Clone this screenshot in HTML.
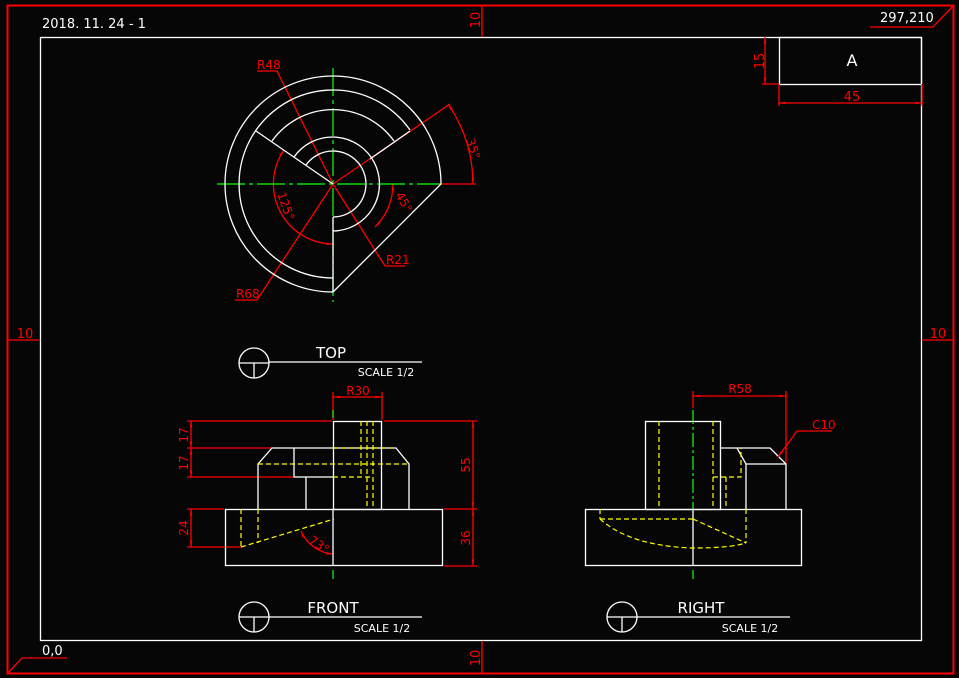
<!DOCTYPE html>
<html><head><meta charset="utf-8"><style>
html,body{margin:0;padding:0;background:#060606;width:959px;height:678px;overflow:hidden}
svg{display:block}
text{font-family:"DejaVu Sans","Liberation Sans",sans-serif}
</style></head><body>
<svg width="959" height="678" viewBox="0 0 959 678" xmlns="http://www.w3.org/2000/svg">
<defs>
<marker id="a" viewBox="0 0 10 10" refX="10" refY="5" markerWidth="7" markerHeight="5" orient="auto-start-reverse"><path d="M0,3 L10,5 L0,7z" fill="#f00"/></marker>
</defs>
<rect width="959" height="678" fill="#060606"/>
<rect x="7.5" y="5.5" width="946" height="668" fill="none" stroke="#f00" stroke-width="2"/>
<rect x="40.5" y="37.5" width="881" height="603" fill="none" stroke="#fff" stroke-width="1.3"/>
<g stroke="#f00" stroke-width="1.3" fill="none">
<line x1="482" y1="5" x2="482" y2="37"/><line x1="482" y1="641" x2="482" y2="673"/>
<line x1="8" y1="340" x2="40" y2="340"/><line x1="922" y1="340" x2="953" y2="340"/>
<polyline points="870,27 933,27 953,6"/>
<polyline points="67,658 22,658 8,673"/>
</g>
<g fill="#f00" font-size="13">
<text transform="translate(480,20) rotate(-90)" text-anchor="middle">10</text>
<text transform="translate(480,658) rotate(-90)" text-anchor="middle">10</text>
<text x="25" y="338" text-anchor="middle">10</text>
<text x="938" y="338" text-anchor="middle">10</text>
</g>
<g fill="#fff" font-size="13">
<text x="42" y="28">2018. 11. 24 - 1</text>
<text x="880" y="22">297,210</text>
<text x="42" y="655">0,0</text>
</g>
<g stroke="#fff" stroke-width="1.3" fill="none">
<rect x="779.5" y="37.5" width="142" height="47"/>
</g>
<text x="852" y="66" fill="#fff" font-size="16" text-anchor="middle">A</text>
<g stroke="#f00" stroke-width="1.3" fill="none">
<line x1="765" y1="37" x2="765" y2="84" marker-start="url(#a)" marker-end="url(#a)"/>
<line x1="762" y1="84" x2="779" y2="84"/>
<line x1="779" y1="84" x2="779" y2="106"/><line x1="922" y1="84" x2="922" y2="106"/>
<line x1="779" y1="103" x2="922" y2="103" marker-start="url(#a)" marker-end="url(#a)"/>
</g>
<text transform="translate(764,61) rotate(-90)" fill="#f00" font-size="13" text-anchor="middle">15</text>
<text x="852" y="101" fill="#f00" font-size="13" text-anchor="middle">45</text>

<!-- TOP VIEW -->
<g stroke="#f00" stroke-width="1.3" fill="none">
<polyline points="257,71 277,71 333,184"/>
<line x1="333" y1="184" x2="385" y2="266"/><line x1="385" y1="266" x2="405" y2="266"/>
<polyline points="235,300 257,300 333,184"/>
<line x1="333" y1="184" x2="450" y2="104"/>
<line x1="441" y1="184" x2="476" y2="184"/>
<path d="M473,184 A140,140 0 0 0 448,104" marker-start="url(#a)" marker-end="url(#a)"/>
<path d="M393,184 A60,60 0 0 1 375,227" marker-start="url(#a)" marker-end="url(#a)"/>
<path d="M284,150 A60,60 0 0 0 333,244" marker-start="url(#a)" marker-end="url(#a)"/>
</g>
<g stroke="#1f1" stroke-width="1.2" stroke-dasharray="28,4,4,4" fill="none">
<line x1="217" y1="184" x2="441" y2="184"/>
<line x1="333" y1="68" x2="333" y2="302"/>
</g>
<g stroke="#fff" stroke-width="1.3" fill="none">
<path d="M333,292 A108,108 0 1 1 441,184 L333,292"/>
<path d="M333,278 A94,94 0 1 1 410,130"/>
<path d="M272,141 A75,75 0 0 1 394,141"/>
<path d="M294,157 A47,47 0 1 1 333,231"/>
<path d="M306,165 A33,33 0 1 1 333,217"/>
<line x1="333" y1="184" x2="256" y2="131"/>
<line x1="370" y1="159" x2="410" y2="131"/>
<line x1="333" y1="217" x2="333" y2="292"/>
</g>
<g fill="#f00" font-size="12">
<text x="257" y="69">R48</text>
<text x="386" y="264">R21</text>
<text x="236" y="298">R68</text>
<text transform="translate(466,140) rotate(72)">35°</text>
<text transform="translate(395,195) rotate(60)">45°</text>
<text transform="translate(277,194) rotate(70)">125°</text>
</g>

<g stroke="#fff" stroke-width="1.3" fill="none">
<circle cx="254" cy="363" r="15"/><line x1="254" y1="363" x2="254" y2="378"/><line x1="239" y1="363" x2="269" y2="363"/><line x1="269" y1="362" x2="422" y2="362"/>
<circle cx="254" cy="617" r="15"/><line x1="254" y1="617" x2="254" y2="632"/><line x1="239" y1="617" x2="269" y2="617"/><line x1="269" y1="617" x2="422" y2="617"/>
<circle cx="622" cy="617" r="15"/><line x1="622" y1="617" x2="622" y2="632"/><line x1="607" y1="617" x2="637" y2="617"/><line x1="637" y1="617" x2="790" y2="617"/>
</g>
<g fill="#fff">
<text x="331" y="358" font-size="15" text-anchor="middle">TOP</text>
<text x="386" y="376" font-size="11" text-anchor="middle">SCALE 1/2</text>
<text x="333" y="613" font-size="15" text-anchor="middle">FRONT</text>
<text x="382" y="632" font-size="11" text-anchor="middle">SCALE 1/2</text>
<text x="701" y="613" font-size="15" text-anchor="middle">RIGHT</text>
<text x="750" y="632" font-size="11" text-anchor="middle">SCALE 1/2</text>
</g>

<!-- FRONT VIEW -->
<g stroke="#f00" stroke-width="1.3" fill="none">
<line x1="187" y1="421" x2="332" y2="421"/><line x1="384" y1="421" x2="477" y2="421"/>
<line x1="187" y1="448" x2="272" y2="448"/>
<line x1="187" y1="477" x2="294" y2="477"/>
<line x1="187" y1="509" x2="224" y2="509"/>
<line x1="187" y1="547" x2="241" y2="547"/>
<line x1="444" y1="509" x2="477" y2="509"/><line x1="444" y1="566" x2="477" y2="566"/>
<line x1="191" y1="421" x2="191" y2="448" marker-start="url(#a)" marker-end="url(#a)"/>
<line x1="191" y1="448" x2="191" y2="477" marker-start="url(#a)" marker-end="url(#a)"/>
<line x1="191" y1="509" x2="191" y2="547" marker-start="url(#a)" marker-end="url(#a)"/>
<line x1="473" y1="421" x2="473" y2="509" marker-start="url(#a)" marker-end="url(#a)"/>
<line x1="473" y1="509" x2="473" y2="566" marker-start="url(#a)" marker-end="url(#a)"/>
<line x1="333" y1="392" x2="333" y2="420"/><line x1="382" y1="392" x2="382" y2="420"/>
<line x1="333" y1="397" x2="382" y2="397" marker-start="url(#a)" marker-end="url(#a)"/>
<path d="M301,531 A38,38 0 0 0 333,554" marker-start="url(#a)" marker-end="url(#a)"/>
</g>
<g fill="#f00" font-size="12">
<text transform="translate(188,435) rotate(-90)" text-anchor="middle">17</text>
<text transform="translate(188,463) rotate(-90)" text-anchor="middle">17</text>
<text transform="translate(188,528) rotate(-90)" text-anchor="middle">24</text>
<text transform="translate(470,465) rotate(-90)" text-anchor="middle">55</text>
<text transform="translate(470,538) rotate(-90)" text-anchor="middle">36</text>
<text x="358" y="395" text-anchor="middle">R30</text>
<text transform="translate(308,542) rotate(35)">73°</text>
</g>
<g stroke="#1f1" stroke-width="1.2" fill="none">
<line x1="333" y1="410" x2="333" y2="418"/><line x1="333" y1="570" x2="333" y2="579"/>
<line x1="693" y1="410" x2="693" y2="509" stroke-dasharray="14,3,3,3"/><line x1="693" y1="570" x2="693" y2="579"/>
</g>
<g stroke="#fff" stroke-width="1.3" fill="none">
<rect x="225.5" y="509.5" width="217" height="56"/>
<line x1="333" y1="509" x2="333" y2="566"/>
<rect x="333.5" y="421.5" width="48" height="88"/>
<polyline points="258,509 258,464 272,448 396,448 409,464 409,509"/>
<polyline points="294,448 294,477 333,477"/>
<line x1="306" y1="477" x2="306" y2="509"/>
</g>
<g stroke="#ff0" stroke-width="1.2" fill="none" stroke-dasharray="5,3">
<line x1="333" y1="448" x2="396" y2="448"/>
<line x1="258" y1="464" x2="409" y2="464"/>
<line x1="333" y1="477" x2="373" y2="477"/>
<line x1="361" y1="421" x2="361" y2="477"/>
<line x1="367" y1="421" x2="367" y2="509"/>
<line x1="373" y1="421" x2="373" y2="509"/>
<line x1="241" y1="509" x2="241" y2="547"/>
<line x1="258" y1="509" x2="258" y2="543"/>
<line x1="241" y1="547" x2="334" y2="519"/>
</g>

<!-- RIGHT VIEW -->
<g stroke="#fff" stroke-width="1.3" fill="none">
<rect x="585.5" y="509.5" width="216" height="56"/>
<line x1="693" y1="509" x2="693" y2="566"/>
<rect x="645.5" y="421.5" width="75" height="88"/>
<polyline points="721,448 737,448 746,464 746,509"/>
<polyline points="737,448 770,448 786,464 786,509"/>
<line x1="746" y1="464" x2="786" y2="464"/>
</g>
<g stroke="#ff0" stroke-width="1.2" fill="none" stroke-dasharray="5,3">
<line x1="659" y1="421" x2="659" y2="509"/>
<line x1="713" y1="421" x2="713" y2="509"/>
<polyline points="713,477 741,477 741,448"/>
<line x1="726" y1="477" x2="726" y2="509"/>
<line x1="600" y1="509" x2="600" y2="519"/>
<line x1="600" y1="519" x2="693" y2="519"/>
<path d="M600,519 Q630,546 693,548 Q730,548 746,543"/>
<line x1="693" y1="519" x2="746" y2="543"/>
<line x1="746" y1="509" x2="746" y2="543"/>
</g>
<g stroke="#f00" stroke-width="1.3" fill="none">
<line x1="693" y1="391" x2="693" y2="408"/><line x1="786" y1="391" x2="786" y2="463"/>
<line x1="693" y1="396" x2="786" y2="396" marker-start="url(#a)" marker-end="url(#a)"/>
<polyline points="832,431 797,431 778,457" marker-end="url(#a)"/>
</g>
<g fill="#f00" font-size="12">
<text x="740" y="393" text-anchor="middle">R58</text>
<text x="812" y="429">C10</text>
</g>
</svg>
</body></html>
